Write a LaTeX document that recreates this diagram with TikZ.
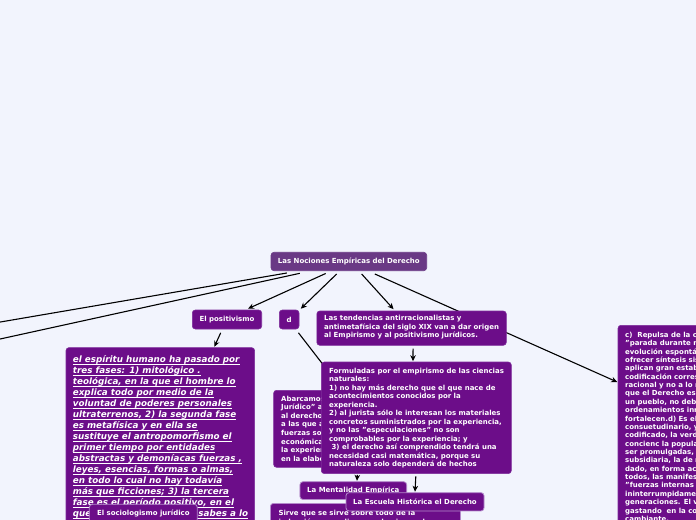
\documentclass[tikz,border=0pt]{standalone}
\usepackage{fontspec}
\setmainfont{DejaVu Sans}
\usetikzlibrary{arrows.meta}
\pgfdeclarelayer{back}
\pgfdeclarelayer{bg}
\pgfsetlayers{back,bg,main}
\definecolor{bgc}{HTML}{F2F4FD}
\definecolor{pfill}{HTML}{6C0D89}
\definecolor{pedge}{HTML}{7D2B9A}
\definecolor{plight}{HTML}{B48ACB}
\definecolor{rootfill}{HTML}{6A3985}
\newcommand\txtlines[2]{\vtop{\hsize=400bp\parindent=0pt\leftskip=0pt\rightskip=0pt plus 1fil\parskip=0pt\baselineskip=#1\lineskiplimit=-20pt\relax\let\\\par #2}}
\newsavebox\ulbox
\newcommand\ulx[1]{\sbox\ulbox{#1}\leavevmode\rlap{\rule[-2.3bp]{\wd\ulbox}{0.7bp}}\usebox\ulbox}
\tikzset{
  pbox/.style={rectangle, rounded corners=3bp, fill=pfill, draw=pedge, line width=0.6bp, inner sep=0pt},
  lightbox/.style={pbox, draw=plight, line width=0.8bp},
  single/.style={text=white, font=\fontsize{7}{8.5}\selectfont\bfseries},
  txt/.style={anchor=base west, inner sep=0pt, text=white, font=\fontsize{7}{8.5}\selectfont\bfseries},
  bigtxt/.style={anchor=base west, inner sep=0pt, text=white, font=\fontsize{8.8}{11}\selectfont\bfseries\itshape},
  conn/.style={draw=black, line width=1.1bp, -{Stealth[length=6bp,width=5.5bp]}},
  plain/.style={draw=black, line width=1.1bp},
}
\begin{document}
\begin{tikzpicture}[x=1bp,y=-1bp]
\useasboundingbox (0,0) rectangle (696,520);
\begin{pgfonlayer}{back}
\fill[bgc] (0,0) rectangle (696,520);
\end{pgfonlayer}

% root and first level
\node[pbox, fill=rootfill, draw=rootfill, single, minimum width=155.7bp, minimum height=18.4bp] (root) at (348.85,261.5) {Las Nociones Empíricas del Derecho};
\node[pbox, single, minimum width=69.4bp, minimum height=19bp] (pos) at (227,319.5) {El positivismo};
\node[pbox, single, minimum width=19.7bp, minimum height=19bp] (d) at (289.15,319.5) {d};
\node[pbox, anchor=north west, minimum width=189.5bp, minimum height=34.3bp] (tend) at (316.5,310.7) {};
\node[txt] (tendT) at (324,320.5) {\txtlines{8.6bp}{Las tendencias antirracionalistas y\\antimetafísica del siglo XIX van a dar origen\\al Empirismo y al positivismo jurídicos.}};

% big left node
\node[pbox, anchor=north west, minimum width=188.6bp, minimum height=200bp] (big) at (65.7,347.3) {};
\node[bigtxt] (bigT) at (72.7,362) {\txtlines{11bp}{\ulx{el espíritu humano ha pasado por}\\
\ulx{tres fases: 1) mitológico .}\\
\ulx{teológica, en la que el hombre lo}\\
\ulx{explica todo por medio de la}\\
\ulx{voluntad de poderes personales}\\
\ulx{ultraterrenos, 2) la segunda fase}\\
\ulx{es metafísica y en ella se}\\
\ulx{sustituye el antropomorfismo el}\\
\ulx{primer tiempo por entidades}\\
\ulx{abstractas y demoníacas fuerzas ,}\\
\ulx{leyes, esencias, formas o almas,}\\
\ulx{en todo lo cual no hay todavía}\\
\ulx{más que ficciones; 3) la tercera}\\
\ulx{fase es el período positivo, en el}\\
\ulx{que el hombre limita sus sabes a lo}}};
\node[lightbox, single, minimum width=108bp, minimum height=18bp] (socio) at (143.3,513.3) {El sociologismo jurídico};

% Abarcamos
\node[pbox, anchor=north west, minimum width=200bp, minimum height=77bp] (abar) at (273.3,390) {};
\node[txt] (abarT) at (281,401.3) {\txtlines{8.55bp}{Abarcamos bajo el rubro "Empirismo\\
Jurídico" a las doctrinas que reducen\\
al derecho a un puro hecho, esto es,\\
a las que atienden sólo a las\\
fuerzas sociales, políticas y\\
económicas que intervienen en\\
la experiencia jurídica y participan\\
en la elaboración del derecho.}};

% Formuladas
\node[pbox, anchor=north west, minimum width=190bp, minimum height=111.6bp] (form) at (321,361.7) {};
\node[txt] (formT) at (329,373.2) {\txtlines{8.48bp}{Formuladas por el empirismo de las ciencias\\
naturales:\\
1) no hay más derecho que el que nace de\\
acontecimientos conocidos por la\\
experiencia.\\
2) al jurista sólo le interesan los materiales\\
concretos suministrados por la experiencia,\\
y no las "especulaciones" no son\\
comprobables por la experiencia; y\\
\ 3) el derecho así comprendido tendrá una\\
necesidad casi matemática, porque su\\
naturaleza solo dependerá de hechos}};

% right node
\node[pbox, anchor=north west, minimum width=200bp, minimum height=220bp] (right) at (617.7,325) {};
\node[txt] (rightT) at (625,337.3) {\txtlines{8.37bp}{c)\ \ Repulsa de la codificación, pues supone una\\
"parada durante mucho tiempo" de la\\
evolución espontánea del derecho; solo puede\\
ofrecer síntesis sistemáticas cuando se\\
aplican gran estabilidad a un pueblo y la\\
codificación corresponde a lo que es\\
racional y no a lo más histórico, puesto\\
que el Derecho es producto del espíritu de\\
un pueblo, no deben imponerse con\\
ordenamientos innecesarios, que no lo\\
fortalecen.d) Es el derecho\\
consuetudinario, y no el derecho\\
codificado, la verdadera expresión de la\\
concienc la popular; las leyes deben\\
ser promulgadas, con una función\\
subsidiaria, la de manifestar lo ya\\
dado, en forma accesible para\\
todos, las manifestaciones de las\\
"fuerzas internas y silenciosas" que actúan\\
ininterrumpidamente a través de las\\
generaciones. El valor normativo se va\\
gastando\ \ en la conciencia colectiva\\
cambiante.}};

% Sirve
\node[lightbox, anchor=north west, minimum width=190bp, minimum height=50bp] (sirve) at (270,503) {};
\node[txt] (sirveT) at (278.3,515.5) {\txtlines{8.5bp}{Sirve que se sirve sobre todo de la\\inducción ya analiza , predomina en los}};

% Mentalidad and Escuela
\node[lightbox, single, minimum width=106.7bp, minimum height=17.8bp] (mental) at (353.3,490.6) {La Mentalidad Empírica};
\node[lightbox, single, minimum width=138bp, minimum height=18.3bp] (escuela) at (415,501.8) {La Escuela Histórica el Derecho};

\coordinate (offA) at (-30,327.2);
\coordinate (offB) at (-30,345.6);
\coordinate (dhid) at (345,393);

\begin{pgfonlayer}{bg}
\draw[plain] ([xshift=-62bp,yshift=-2bp]root.south) -- (offA);
\draw[plain] ([xshift=-49bp,yshift=-2.3bp]root.south) -- (offB);
\draw[conn] ([xshift=-23.2bp,yshift=-2.5bp]root.south) -- ([xshift=21bp,yshift=1bp]pos.north);
\draw[conn] ([xshift=-12.2bp,yshift=-3bp]root.south) -- ([xshift=1.5bp,yshift=1bp]d.north east);
\draw[conn] ([xshift=12.8bp,yshift=-3bp]root.south) -- ([xshift=-18bp,yshift=1.5bp]tend.north);
\draw[conn] ([xshift=26bp,yshift=-3bp]root.south) -- ([xshift=-0.5bp,yshift=-57bp]right.north west);
\draw[conn] ([xshift=-6.3bp,yshift=-3.5bp]pos.south) -- ([xshift=54bp,yshift=0.5bp]big.north);
\draw[plain] ([xshift=9.3bp,yshift=-3.5bp]d.south) -- (dhid);
\draw[conn] ([xshift=1.5bp,yshift=-3bp]tend.south) -- ([xshift=-3.3bp,yshift=0.5bp]form.north);
\draw[conn] ([xshift=-0.5bp,yshift=-2.5bp]form.south) -- ([xshift=0bp,yshift=0.5bp]escuela.north);
\draw[conn] ([xshift=-59bp,yshift=-1bp]form.south) -- ([xshift=3.7bp,yshift=0.5bp]mental.north);
\end{pgfonlayer}
\end{tikzpicture}
\end{document}
